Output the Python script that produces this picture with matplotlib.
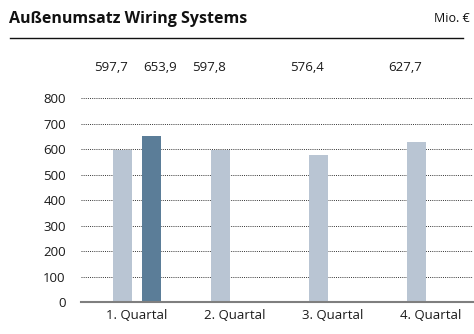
import matplotlib
matplotlib.use("Agg")
import matplotlib.pyplot as plt
from matplotlib.lines import Line2D

categories = ["1. Quartal", "2. Quartal", "3. Quartal", "4. Quartal"]
prev_values = [597.7, 597.8, 576.4, 627.7]
curr_values = [653.9]
prev_labels = ["597,7", "597,8", "576,4", "627,7"]
curr_labels = ["653,9"]
yticks = [0, 100, 200, 300, 400, 500, 600, 700, 800]

plt.rcParams['font.family'] = ['Open Sans', 'DejaVu Sans']

fig = plt.figure(figsize=(4.74, 3.34), dpi=100)
W, H = 474, 334
ax = fig.add_axes([81 / W, 1 - 302 / H, (473 - 81) / W, (302 - 98.3) / H])

off = 0.148
bw = 0.195
light = "#b9c5d3"
dark = "#5b7d98"
xs_prev = [i - off for i in range(len(prev_values))]
xs_curr = [i + off for i in range(len(curr_values))]
ax.bar(xs_prev, prev_values, width=bw, color=light, zorder=3)
ax.bar(xs_curr, curr_values, width=bw, color=dark, zorder=3)

ax.set_xlim(-0.571, 3.43)
ax.set_ylim(0, 800)
ax.set_yticks(yticks)
ax.set_yticklabels([str(t) for t in yticks], fontsize=9.5, color="#1a1a1a")
ax.set_xticks(range(len(categories)))
ax.set_xticklabels(categories, fontsize=9.5, color="#1a1a1a")
ax.tick_params(axis="both", length=0)
ax.tick_params(axis="y", pad=11)
ax.tick_params(axis="x", pad=5)
for t in yticks[1:]:
    ax.axhline(t, color="#333333", lw=0.7, ls=(0, (1, 1.2)), zorder=1)
for s in ["top", "right", "left"]:
    ax.spines[s].set_visible(False)
ax.spines["bottom"].set_color("#7f7f7f")
ax.spines["bottom"].set_linewidth(1.5)
ax.spines["bottom"].set_zorder(4)

# value labels above the plot
for x, lab in zip(xs_prev, prev_labels):
    ax.annotate(lab, (x, 1), xycoords=("data", "axes fraction"),
                xytext=(-8, 22.5), textcoords="offset points",
                ha="center", va="center", fontsize=9.5, color="#1a1a1a")
for x, lab in zip(xs_curr, curr_labels):
    ax.annotate(lab, (x, 1), xycoords=("data", "axes fraction"),
                xytext=(6, 22.5), textcoords="offset points",
                ha="center", va="center", fontsize=9.5, color="#1a1a1a")

fig.text(9 / W, 1 - 19 / H, "Außenumsatz Wiring Systems", fontsize=11.5,
         fontweight="bold", ha="left", va="center", color="#111111")
fig.text(470 / W, 1 - 19 / H, "Mio. €", fontsize=9, ha="right", va="center",
         color="#111111")
fig.add_artist(Line2D([10 / W, 463 / W], [1 - 38 / H, 1 - 38 / H],
                      color="#111111", lw=1.0, transform=fig.transFigure))

fig.savefig("out.png", dpi=100)
